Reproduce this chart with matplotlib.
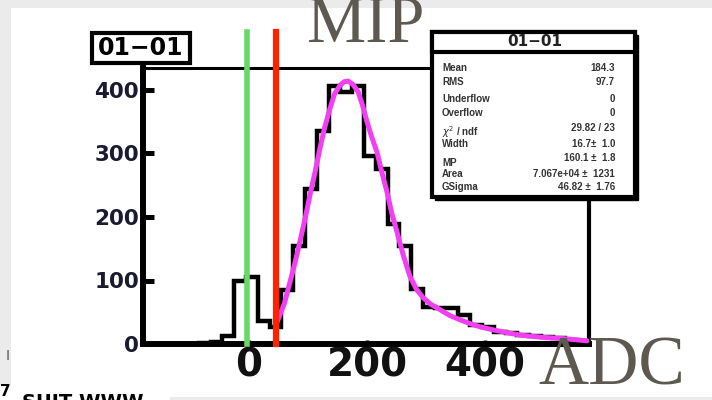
import numpy as np
import matplotlib
matplotlib.use("Agg")
import matplotlib.pyplot as plt
from matplotlib.patches import Rectangle

W, H = 712, 400

# ---------------- data ----------------
bin_edges = [-105, -85, -65, -45, -25, -5, 15, 35, 55, 75, 95, 115, 135, 155, 175,
             195, 215, 235, 255, 275, 295, 315, 335, 355, 375, 395, 415, 435, 455,
             475, 495, 515, 535, 555, 575]
counts = [0, 1, 3, 12, 100, 106, 36, 27, 85, 154, 244, 335, 407, 397, 407,
          296, 275, 189, 154, 86, 59, 57, 57, 46, 30, 27, 19, 17, 14, 13, 11, 10, 6, 4]

fit_x = [47, 60, 69, 78, 86, 95, 103, 112, 120, 128, 137, 145, 154, 161, 168,
         176, 185, 192, 200, 208, 217, 225, 234, 242, 251, 262, 273, 284, 295,
         309, 324, 340, 358, 375, 392, 415, 437, 460, 481, 505, 527, 550, 573]
fit_y = [33, 64, 96, 128, 160, 197, 233, 271, 307, 340, 370, 394, 407, 413, 414,
         409, 397, 377, 350, 326, 302, 271, 239, 206, 176, 138, 106, 86, 73,
         62, 54, 45, 38, 32, 27, 22, 18, 14, 12, 10, 9, 7, 5]

green_cut = -3
red_cut = 46

x_ticks = [0, 200, 400]
y_ticks = [0, 100, 200, 300, 400]

hist_name = "01\u221201"
stats_labels = ["Mean", "RMS", "Underflow", "Overflow", r"$\chi^{2}$ / ndf",
                "Width", "MP", "Area", "GSigma"]
stats_values = ["184.3", "97.7", "0", "0", "29.82 / 23", "16.7\u00b1  1.0",
                "160.1 \u00b1  1.8", "7.067e+04 \u00b1  1231", "46.82 \u00b1  1.76"]
entries_value = "3717"

# ---------------- helpers ----------------
def fx(x):
    return x / W

def fy(y):
    return 1 - y / H

fig = plt.figure(figsize=(W / 100, H / 100), dpi=100)
fig.patch.set_facecolor("#ebebeb")

# white page
fig.add_artist(Rectangle((fx(11), fy(397)), fx(712 - 11), 389 / H,
                         transform=fig.transFigure, facecolor="white",
                         edgecolor="none", zorder=-2))
fig.add_artist(Rectangle((0, 0), fx(170), 14 / H, transform=fig.transFigure,
                         facecolor="white", edgecolor="none", zorder=-2))

# ---------------- axes ----------------
ax_l, ax_r, ax_t, ax_b = 143, 589, 68, 344
ax = fig.add_axes([fx(ax_l), fy(ax_b), (ax_r - ax_l) / W, (ax_b - ax_t) / H])
x0_px, px_per_unit = 249, 0.59
ax.set_xlim((ax_l - x0_px) / px_per_unit, (ax_r - x0_px) / px_per_unit)
y_scale = 0.635
ax.set_ylim(0, (ax_b - ax_t) / y_scale)
ax.set_facecolor("white")

ax.stairs(counts, bin_edges, color="black", lw=3.2, zorder=3)
ax.plot(fit_x, fit_y, color="#f23ff2", lw=3.6, solid_joinstyle="round",
        solid_capstyle="round", zorder=4)

ytop = (ax_b - 32) / y_scale
ax.plot([green_cut, green_cut], [0, ytop], color="#66d966", lw=4, clip_on=False, zorder=5)
ax.plot([red_cut, red_cut], [0, ytop], color="#ff2200", lw=4.5, clip_on=False, zorder=5)

for s in ["left", "bottom"]:
    ax.spines[s].set_linewidth(4.3)
ax.spines["top"].set_linewidth(2.2)
ax.spines["right"].set_linewidth(3.0)

ax.set_xticks(x_ticks)
ax.set_yticks(y_ticks)
ax.set_xticklabels([str(v) for v in x_ticks])
ax.set_yticklabels([str(v) for v in y_ticks])
ax.tick_params(axis="y", direction="in", length=8, width=3.6, pad=3,
               labelsize=15.5, labelcolor="#1a1a30")
ax.tick_params(axis="x", direction="in", length=3, width=2.5, pad=2,
               labelsize=28, labelcolor="#111111")
for lab in ax.get_yticklabels() + ax.get_xticklabels():
    lab.set_fontweight("bold")
    lab.set_fontfamily("DejaVu Sans")

# ---------------- title box ----------------
fig.add_artist(Rectangle((fx(92), fy(63)), fx(98), 30 / H, transform=fig.transFigure,
                         facecolor="white", edgecolor="black", lw=3, zorder=2))
fig.text(fx(141), fy(48), hist_name, ha="center", va="center", fontsize=17,
         fontweight="bold", family="DejaVu Sans", color="black", zorder=3)

# ---------------- stats box ----------------
sb_l, sb_r, sb_t, sb_b = 432, 635, 32, 197
fig.add_artist(Rectangle((fx(sb_l + 3), fy(sb_b + 3)), fx(sb_r - sb_l), (sb_b - sb_t) / H,
                         transform=fig.transFigure, facecolor="black",
                         edgecolor="black", lw=1, zorder=1))
fig.add_artist(Rectangle((fx(sb_l), fy(sb_b)), fx(sb_r - sb_l), (sb_b - sb_t) / H,
                         transform=fig.transFigure, facecolor="white",
                         edgecolor="black", lw=3, zorder=1.5))
fig.text(fx(442), fy(51), "Entries", ha="left", va="center", fontsize=7,
         fontweight="bold", family="Liberation Sans", color="#333333", zorder=2)
fig.text(fx(615), fy(51), entries_value, ha="right", va="center", fontsize=7,
         fontweight="bold", family="Liberation Sans", color="#333333", zorder=2)
fig.add_artist(Rectangle((fx(sb_l), fy(52)), fx(sb_r - sb_l), 20 / H,
                         transform=fig.transFigure, facecolor="white",
                         edgecolor="black", lw=3, zorder=2.5))
fig.text(fx(535), fy(41), hist_name, ha="center", va="center", fontsize=11,
         fontweight="bold", family="DejaVu Sans", color="#222222", zorder=3)

label_y = [68, 82, 99, 113, 132, 144, 163, 174, 187]
value_y = [68, 82, 99, 113, 128, 144, 158, 174, 187]
for lab, val, ly, vy in zip(stats_labels, stats_values, label_y, value_y):
    fig.text(fx(442), fy(ly), lab, ha="left", va="center", fontsize=7,
             fontweight="bold", family="Liberation Sans", color="#333333", zorder=3)
    fig.text(fx(615), fy(vy), val, ha="right", va="center", fontsize=7,
             fontweight="bold", family="Liberation Sans", color="#333333", zorder=3)

# ---------------- overlay annotations ----------------
fig.text(fx(365), fy(25), "MIP", ha="center", va="center", fontsize=48,
         family="Liberation Serif", color="#5d5850", zorder=6)
fig.text(fx(612), fy(368), "ADC", ha="center", va="center", fontsize=50,
         family="Liberation Serif", color="#5d5850", zorder=6)

fig.text(fx(8), fy(356), "I", ha="center", va="center", fontsize=10,
         color="#555555", zorder=6)
fig.text(fx(0), fy(391), "7", ha="left", va="center", fontsize=11,
         fontweight="bold", color="black", zorder=6)
fig.text(fx(22), fy(393), "SUIT WWW", ha="left", va="top", fontsize=14,
         fontweight="bold", color="black", zorder=6)

fig.savefig("out.png", dpi=100, facecolor=fig.get_facecolor())
